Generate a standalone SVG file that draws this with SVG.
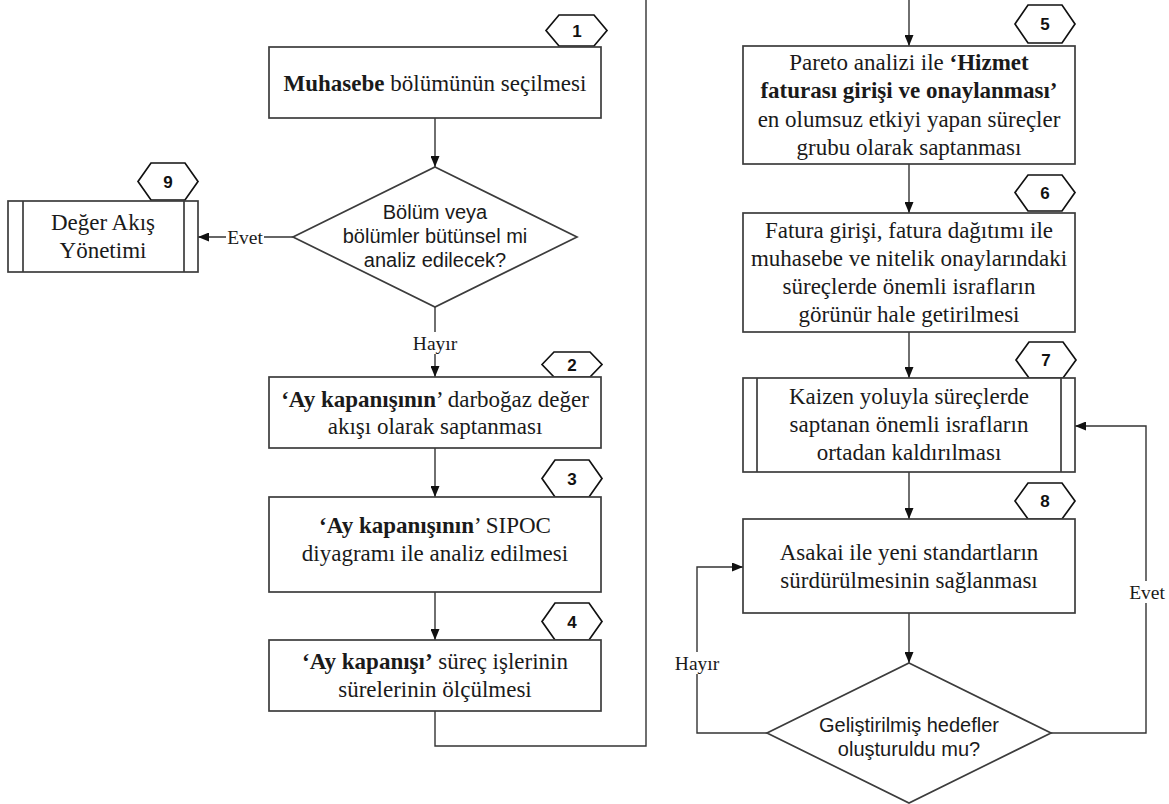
<svg xmlns="http://www.w3.org/2000/svg" width="1169" height="804" viewBox="0 0 1169 804">
<defs>
<marker id="arr" markerUnits="userSpaceOnUse" markerWidth="11" markerHeight="9" refX="11" refY="4.5" orient="auto">
<path d="M0,0 L11,4.5 L0,9 z" fill="#111"/>
</marker>
</defs>
<style>
.box{fill:#fff;stroke:#3c3c3c;stroke-width:1.7}
.hex{fill:#fff;stroke:#111;stroke-width:1.7}
.num{font-family:"Liberation Sans",Arial,sans-serif;font-weight:bold;font-size:17px;fill:#111;text-anchor:middle}
.t{font-family:"Liberation Serif","Times New Roman",serif;font-size:23px;fill:#1a1a1a;text-anchor:middle}
.s{font-family:"Liberation Sans",Arial,sans-serif;font-size:20px;fill:#1a1a1a;text-anchor:middle}
.lbl{font-family:"Liberation Serif","Times New Roman",serif;font-size:19.5px;fill:#1a1a1a;text-anchor:middle}
.c{fill:none;stroke:#333;stroke-width:1.4}
.bg{fill:#fff}
b,.b{font-weight:bold}
</style>
<rect width="1169" height="804" fill="#fff"/>

<g id="connectors">
<path class="c" d="M435 118 V167" marker-end="url(#arr)"/>
<path class="c" d="M435 307 V377" marker-end="url(#arr)"/>
<path class="c" d="M293 237 H198" marker-end="url(#arr)"/>
<path class="c" d="M435 448 V497" marker-end="url(#arr)"/>
<path class="c" d="M435 592 V640" marker-end="url(#arr)"/>
<path class="c" d="M435 711 V746 H646 V0"/>
<path class="c" d="M909 0 V46" marker-end="url(#arr)"/>
<path class="c" d="M909 164 V213" marker-end="url(#arr)"/>
<path class="c" d="M909 332 V378" marker-end="url(#arr)"/>
<path class="c" d="M909 472 V519" marker-end="url(#arr)"/>
<path class="c" d="M909 613 V663" marker-end="url(#arr)"/>
<path class="c" d="M767 733 H697 V567 H743" marker-end="url(#arr)"/>
<path class="c" d="M1051 733 H1146 V426 H1075" marker-end="url(#arr)"/>
<rect class="bg" x="226" y="226" width="38" height="22"/>
<text class="lbl" x="245" y="244">Evet</text>
<rect class="bg" x="412" y="332" width="46" height="22"/>
<text class="lbl" x="435" y="350">Hayır</text>
<rect class="bg" x="674" y="652" width="46" height="22"/>
<text class="lbl" x="697" y="670">Hayır</text>
<rect class="bg" x="1128" y="581" width="38" height="22"/>
<text class="lbl" x="1147" y="599">Evet</text>
</g>

<g id="n1">
<polygon class="hex" points="546,30.5 559,15 594,15 607,30.5 594,46 559,46"/>
<text class="num" x="577" y="36.5">1</text>
<rect class="box" x="269" y="47" width="332" height="71"/>
<text class="t" x="435" y="91"><tspan class="b">Muhasebe</tspan> bölümünün seçilmesi</text>
</g>

<g id="d1">
<polygon class="box" points="435,167 577,237 435,307 293,237"/>
<text class="s" x="435" y="219">Bölüm veya</text>
<text class="s" x="435" y="243">bölümler bütünsel mi</text>
<text class="s" x="435" y="267">analiz edilecek?</text>
</g>

<g id="n9">
<polygon class="hex" points="138,181.5 151,163 185,163 198,181.5 185,200 151,200"/>
<text class="num" x="168" y="187.5">9</text>
<rect class="box" x="8" y="201" width="190" height="71"/>
<line class="box" x1="23" y1="201" x2="23" y2="272"/>
<line class="box" x1="184" y1="201" x2="184" y2="272"/>
<text class="t" x="103" y="230">Değer Akış</text>
<text class="t" x="103" y="258">Yönetimi</text>
</g>

<g id="n2">
<polygon class="hex" points="542,364.5 554,352 590,352 602,364.5 590,377 554,377"/>
<text class="num" x="572" y="370.5">2</text>
<rect class="box" x="269" y="377" width="332" height="71"/>
<text class="t" x="435" y="407"><tspan class="b">‘Ay kapanışının</tspan>’ darboğaz değer</text>
<text class="t" x="435" y="434">akışı olarak saptanması</text>
</g>

<g id="n3">
<polygon class="hex" points="542,478.5 555,460 589,460 602,478.5 589,497 555,497"/>
<text class="num" x="572" y="484.5">3</text>
<rect class="box" x="269" y="497" width="332" height="95"/>
<text class="t" x="435" y="533"><tspan class="b">‘Ay kapanışının</tspan>’ SIPOC</text>
<text class="t" x="435" y="561">diyagramı ile analiz edilmesi</text>
</g>

<g id="n4">
<polygon class="hex" points="542,621.5 555,603 589,603 602,621.5 589,640 555,640"/>
<text class="num" x="572" y="627.5">4</text>
<rect class="box" x="269" y="640" width="332" height="71"/>
<text class="t" x="435" y="669"><tspan class="b">‘Ay kapanışı’</tspan> süreç işlerinin</text>
<text class="t" x="435" y="697">sürelerinin ölçülmesi</text>
</g>

<g id="n5">
<polygon class="hex" points="1015,24 1028,5 1062,5 1075,24 1062,43 1028,43"/>
<text class="num" x="1045" y="30">5</text>
<rect class="box" x="743" y="46" width="332" height="118"/>
<text class="t" x="909" y="70">Pareto analizi ile <tspan class="b">‘Hizmet</tspan></text>
<text class="t" x="909" y="98"><tspan class="b">faturası girişi ve onaylanması’</tspan></text>
<text class="t" x="909" y="127">en olumsuz etkiyi yapan süreçler</text>
<text class="t" x="909" y="155">grubu olarak saptanması</text>
</g>

<g id="n6">
<polygon class="hex" points="1015,192.5 1028,175 1062,175 1075,192.5 1062,211 1028,211"/>
<text class="num" x="1045" y="198.5">6</text>
<rect class="box" x="743" y="213" width="332" height="119"/>
<text class="t" x="909" y="238">Fatura girişi, fatura dağıtımı ile</text>
<text class="t" x="909" y="266">muhasebe ve nitelik onaylarındaki</text>
<text class="t" x="909" y="294">süreçlerde önemli israfların</text>
<text class="t" x="909" y="322">görünür hale getirilmesi</text>
</g>

<g id="n7">
<polygon class="hex" points="1016,360 1029,342 1063,342 1076,360 1063,378 1029,378"/>
<text class="num" x="1046" y="366">7</text>
<rect class="box" x="743" y="378" width="332" height="94"/>
<line class="box" x1="757" y1="378" x2="757" y2="472"/>
<line class="box" x1="1061" y1="378" x2="1061" y2="472"/>
<text class="t" x="909" y="404">Kaizen yoluyla süreçlerde</text>
<text class="t" x="909" y="432">saptanan önemli israfların</text>
<text class="t" x="909" y="460">ortadan kaldırılması</text>
</g>

<g id="n8">
<polygon class="hex" points="1015,501 1028,483 1062,483 1075,501 1062,519 1028,519"/>
<text class="num" x="1045" y="507">8</text>
<rect class="box" x="743" y="519" width="332" height="94"/>
<text class="t" x="909" y="560">Asakai ile yeni standartların</text>
<text class="t" x="909" y="588">sürdürülmesinin sağlanması</text>
</g>

<g id="d2">
<polygon class="box" points="909,663 1051,733 909,803 767,733"/>
<text class="s" x="909" y="732">Geliştirilmiş hedefler</text>
<text class="s" x="909" y="756">oluşturuldu mu?</text>
</g>
</svg>
